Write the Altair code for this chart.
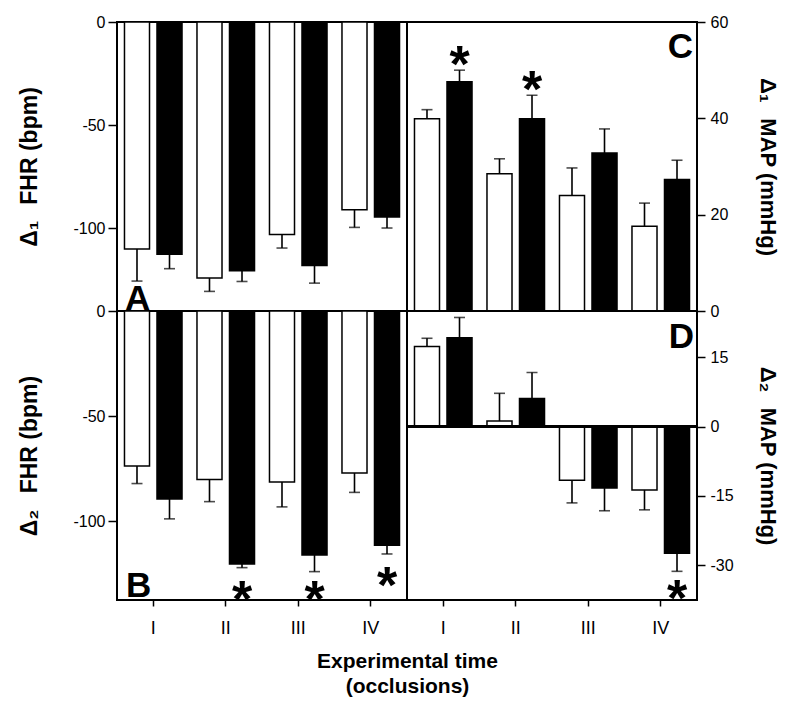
import altair as alt
import pandas as pd

groups = ["I", "II", "III", "IV"]
series = ["control", "treated"]

# Panel A: delta1 FHR
a_white = [-110.0, -124.0, -103.0, -91.0]
a_white_err = [15.5, 6.5, 6.5, 8.5]
a_black = [-112.5, -120.5, -118.0, -94.5]
a_black_err = [7.0, 5.2, 8.5, 5.3]

# Panel B: delta2 FHR
b_white = [-73.7, -80.2, -81.3, -77.1]
b_white_err = [8.4, 10.5, 11.9, 9.2]
b_black = [-89.4, -120.4, -116.1, -111.5]
b_black_err = [9.5, 1.7, 7.9, 4.1]

# Panel C: delta1 MAP
c_white = [39.9, 28.5, 24.0, 17.6]
c_white_err = [1.9, 3.1, 5.7, 4.8]
c_black = [47.6, 39.9, 32.8, 27.3]
c_black_err = [2.4, 4.9, 5.0, 4.0]

# Panel D: delta2 MAP
d_white = [17.3, 1.2, -11.6, -13.7]
d_white_err = [1.8, 6.0, 4.9, 4.3]
d_black = [19.2, 6.1, -13.3, -27.4]
d_black_err = [4.4, 5.6, 4.9, 3.9]

# significance markers (group, value where the asterisk sits)
b_star_groups = ["II", "III", "IV"]
b_star_values = [-131.4, -131.4, -124.8]
c_star_groups = ["I", "II"]
c_star_values = [53.7, 48.5]
d_star_groups = ["IV"]
d_star_values = [-34.4]

FONT = "Liberation Sans"
W, H = 290, 289
LABEL_EXPR = "datum.value < 0 ? '-' + format(-datum.value, 'd') : format(datum.value, 'd')"


def make_df(white, white_err, black, black_err):
    rows = []
    for g, v, e in zip(groups, white, white_err):
        rows.append({"group": g, "series": series[0], "value": v,
                     "end": v + (e if v >= 0 else -e)})
    for g, v, e in zip(groups, black, black_err):
        rows.append({"group": g, "series": series[1], "value": v,
                     "end": v + (e if v >= 0 else -e)})
    return pd.DataFrame(rows)


def panel(df, star_groups, star_values, domain, ticks, ytitle, orient,
          xaxis, letter, lx, ly, lalign, zero_line=False):
    if orient == "left":
        yaxis = alt.Axis(orient="left", values=ticks, title=ytitle, grid=False,
                         domain=False, tickSize=9, tickWidth=1.5, tickColor="black",
                         labelFontSize=16, labelColor="black", labelPadding=3,
                         labelExpr=LABEL_EXPR,
                         titleFontSize=23, titleFontWeight="bold", titleColor="black",
                         titlePadding=26, minExtent=50, maxExtent=50)
    else:
        yaxis = alt.Axis(orient="right", values=ticks, title=ytitle, grid=False,
                         domain=False, tickSize=8, tickWidth=1.5, tickColor="black",
                         labelFontSize=16, labelColor="black", labelPadding=5,
                         labelExpr=LABEL_EXPR,
                         titleFontSize=22, titleFontWeight="bold", titleColor="black",
                         titlePadding=22, minExtent=36, maxExtent=36)
    x = alt.X("group:N", scale=alt.Scale(domain=groups, paddingInner=0, paddingOuter=0),
              axis=xaxis)
    xo = alt.XOffset("series:N", scale=alt.Scale(domain=series, paddingInner=0.23,
                                                 paddingOuter=0.23))
    y = alt.Y("value:Q", scale=alt.Scale(domain=domain, nice=False, zero=True), axis=yaxis)

    base = alt.Chart(df)
    bars = base.mark_bar(stroke="black", strokeWidth=1.5).encode(
        x=x, xOffset=xo, y=y,
        color=alt.Color("series:N", scale=alt.Scale(domain=series, range=["white", "black"]),
                        legend=None),
    )
    err = base.mark_rule(color="black", strokeWidth=1.6).encode(
        x=x, xOffset=xo, y="value:Q", y2="end:Q")
    cap = base.mark_tick(color="black", thickness=1.6, size=11).encode(
        x=x, xOffset=xo, y="end:Q")
    layers = [bars, err, cap]
    if zero_line:
        layers.append(alt.Chart(df).mark_rule(color="black", strokeWidth=2).encode(
            y=alt.datum(0)))
    if star_groups:
        sdf = pd.DataFrame({"group": star_groups, "series": [series[1]] * len(star_groups),
                            "value": star_values, "t": ["*"] * len(star_groups)})
        stars = alt.Chart(sdf).mark_text(font=FONT, fontSize=52, fontWeight="bold",
                                         baseline="middle", dy=14, color="black").encode(
            x=x, xOffset=xo, y="value:Q", text="t:N")
        layers.append(stars)
    ldf = pd.DataFrame({"t": [letter]})
    lab = alt.Chart(ldf).mark_text(font=FONT, fontSize=35, fontWeight="bold",
                                   align=lalign, baseline="alphabetic", color="black").encode(
        x=alt.value(lx), y=alt.value(ly), text="t:N")
    layers.append(lab)
    return alt.layer(*layers).properties(width=W, height=H)


xb = alt.Axis(labelAngle=0, labelFontSize=18, labelColor="black", labelPadding=13,
              tickSize=6, tickWidth=1.5, tickColor="black", domain=False,
              title=["Experimental time", "(occlusions)"], titleFontSize=21,
              titleFontWeight="bold", titleColor="black", titleX=W, titleY=67,
              titleAlign="center", titleBaseline="alphabetic", titleLineHeight=25)
xd = alt.Axis(labelAngle=0, labelFontSize=18, labelColor="black", labelPadding=13,
              tickSize=6, tickWidth=1.5, tickColor="black", domain=False, title=None)

SP = "\u2002\u2009"
pA = panel(make_df(a_white, a_white_err, a_black, a_black_err), [], [],
           [-140, 0], [0, -50, -100], "Δ₁" + SP + "FHR (bpm)", "left", None,
           "A", 8, 288, "left")
pC = panel(make_df(c_white, c_white_err, c_black, c_black_err), c_star_groups, c_star_values,
           [0, 60], [0, 20, 40, 60], "Δ₁" + SP + "MAP (mmHg)", "right", None,
           "C", 286, 36, "right")
pB = panel(make_df(b_white, b_white_err, b_black, b_black_err), b_star_groups, b_star_values,
           [-137.5, 0], [0, -50, -100], "Δ₂" + SP + "FHR (bpm)", "left", xb,
           "B", 9, 286, "left")
pD = panel(make_df(d_white, d_white_err, d_black, d_black_err), d_star_groups, d_star_values,
           [-37.5, 25], [-30, -15, 0, 15], "Δ₂" + SP + "MAP (mmHg)", "right", xd,
           "D", 287, 37, "right", zero_line=True)

chart = alt.concat(pA, pC, pB, pD, columns=2, spacing=0, bounds="flush").properties(
    padding={"left": 9, "top": 5, "right": 5, "bottom": 5}
).configure(
    font=FONT,
    view=alt.ViewConfig(stroke="black", strokeWidth=2),
)

chart.save("out.html", embed_options={"renderer": "svg", "actions": False})
